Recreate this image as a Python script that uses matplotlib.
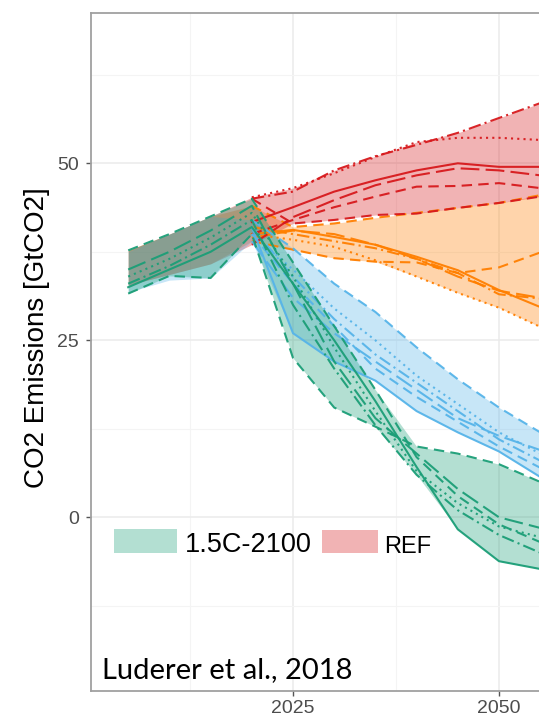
import matplotlib
matplotlib.use("Agg")
import matplotlib.pyplot as plt
from matplotlib.patches import Rectangle
from matplotlib.ticker import MultipleLocator

# ---------------- data ----------------
years = [2005, 2010, 2015, 2020, 2025, 2030, 2035, 2040, 2045, 2050, 2055]

# 1.5C-2100 (green) model trajectories
green_solid    = [32.5, 35.0, 37.5, 41.0, 33.0, 25.0, 16.4, 7.1, -1.7, -6.2, -7.3]
green_dashed_a = [31.6, 34.1, 33.8, 40.0, 22.5, 15.5, 12.8, 10.0, 9.0, 7.5, 5.0]
green_dashed_b = [37.7, 40.0, 42.5, 45.0, 36.0, 27.0, 18.0, 8.5, 3.0, -1.0, -3.5]
green_dotted   = [34.0, 36.5, 39.5, 43.0, 34.0, 24.0, 15.0, 6.5, 2.0, -1.3, -2.8]
green_dashdot  = [33.0, 35.5, 38.5, 42.0, 30.0, 21.0, 13.0, 6.0, 1.0, -2.5, -5.0]
green_longdash = [35.0, 37.5, 40.5, 44.0, 33.0, 22.0, 14.0, 9.0, 4.0, 0.0, -1.5]

# 2C (blue) model trajectories
blue_solid    = [33.0, 35.5, 38.0, 41.0, 26.0, 22.0, 19.3, 15.0, 12.0, 9.3, 5.7]
blue_dashed_a = [37.5, 40.0, 42.5, 42.0, 38.0, 33.0, 29.0, 24.0, 19.5, 15.5, 12.0]
blue_dashdot  = [34.0, 36.5, 39.0, 41.0, 34.0, 28.0, 23.0, 19.0, 15.0, 11.0, 8.0]
blue_dotted   = [35.0, 37.5, 40.0, 40.0, 35.0, 29.5, 25.0, 20.0, 16.0, 12.0, 9.0]
blue_longdash = [31.8, 33.5, 33.8, 39.0, 31.0, 26.0, 22.0, 18.0, 14.0, 11.5, 9.5]
blue_dashed_b = [33.5, 36.0, 38.5, 40.0, 33.0, 27.0, 21.0, 17.0, 13.5, 10.0, 7.0]

# REF (red) model trajectories
red_dotted   = [37.7, 40.0, 42.5, 45.2, 46.5, 48.6, 50.9, 53.0, 53.6, 53.6, 53.3]
red_dashdot  = [36.0, 38.5, 41.0, 45.0, 46.0, 49.0, 51.0, 52.6, 54.3, 56.4, 58.5]
red_solid    = [35.0, 37.0, 39.5, 41.7, 43.8, 46.0, 47.6, 49.0, 50.0, 49.5, 49.5]
red_longdash = [32.8, 34.3, 35.8, 38.5, 42.4, 44.8, 46.9, 48.3, 49.3, 49.0, 48.3]
red_dashed_a = [34.0, 36.0, 38.5, 40.0, 42.0, 43.8, 45.3, 46.7, 46.8, 47.2, 46.5]
red_dashed_b = [36.5, 39.0, 41.5, 45.0, 41.5, 42.0, 42.7, 42.9, 43.7, 44.4, 45.3]

# NDC (orange) model trajectories
orange_dashed_a = [37.7, 40.0, 42.5, 44.0, 41.0, 41.5, 42.3, 43.0, 43.7, 44.4, 45.5]
orange_dotted   = [32.8, 34.3, 35.8, 40.0, 39.2, 38.2, 36.3, 34.0, 31.7, 29.6, 26.9]
orange_solid    = [35.0, 37.0, 39.5, 40.0, 40.6, 39.6, 38.5, 36.8, 34.9, 32.1, 29.7]
orange_dashed_b = [34.0, 36.0, 38.5, 39.0, 37.8, 36.6, 36.1, 36.0, 34.5, 35.3, 37.4]
orange_dashdot  = [36.0, 38.5, 41.0, 41.0, 40.0, 39.0, 38.0, 36.5, 34.5, 31.5, 30.9]
orange_longdash = [33.5, 35.5, 37.5, 39.5, 40.5, 40.0, 38.5, 36.5, 34.0, 32.0, 31.0]

x_ticks = [2025, 2050]
y_ticks = [0, 25, 50]
legend_labels = ["1.5C-2100", "REF"]

# ---------------- styling ----------------
LS = {
    "solid": "-",
    "dashed": (0, (5, 3)),
    "dotted": (0, (1, 2)),
    "dashdot": (0, (6, 2, 1, 2)),
    "longdash": (0, (9, 3)),
}

scenarios = [
    ("NDC", "#ff7f00", [
        (orange_dashed_a, "dashed"), (orange_dotted, "dotted"), (orange_solid, "solid"),
        (orange_dashed_b, "dashed"), (orange_dashdot, "dashdot"), (orange_longdash, "longdash")]),
    ("REF", "#d7191c", [
        (red_dotted, "dotted"), (red_dashdot, "dashdot"), (red_solid, "solid"),
        (red_longdash, "longdash"), (red_dashed_a, "dashed"), (red_dashed_b, "dashed")]),
    ("2C", "#56b4e9", [
        (blue_solid, "solid"), (blue_dashed_a, "dashed"), (blue_dashdot, "dashdot"),
        (blue_dotted, "dotted"), (blue_longdash, "longdash"), (blue_dashed_b, "dashed")]),
    ("1.5C-2100", "#1b9e77", [
        (green_solid, "solid"), (green_dashed_a, "dashed"), (green_dashed_b, "dashed"),
        (green_dotted, "dotted"), (green_dashdot, "dashdot"), (green_longdash, "longdash")]),
]

SANS = ["Liberation Sans", "DejaVu Sans"]

W, H = 539, 721
fig = plt.figure(figsize=(W / 100, H / 100), dpi=100)
left, right, top, bottom = 91, 562, 13, 691
ax = fig.add_axes([left / W, 1 - bottom / H, (right - left) / W, (bottom - top) / H])

px_per_year = 8.24
px_per_unit = 7.08
x0 = 2025 - (293 - left) / px_per_year
ax.set_xlim(x0, x0 + (right - left) / px_per_year)
ax.set_ylim((517.3 - bottom) / px_per_unit, (517.3 - top) / px_per_unit)

# grid
ax.set_axisbelow(True)
ax.xaxis.set_major_locator(MultipleLocator(25))
ax.xaxis.set_minor_locator(MultipleLocator(12.5))
ax.yaxis.set_major_locator(MultipleLocator(25))
ax.yaxis.set_minor_locator(MultipleLocator(12.5))
ax.grid(which="major", color="#ebebeb", linewidth=1.1)
ax.grid(which="minor", color="#f4f4f4", linewidth=0.8)

for name, color, lines in scenarios:
    n = len(years)
    lo = [min(l[0][i] for l in lines) for i in range(n)]
    hi = [max(l[0][i] for l in lines) for i in range(n)]
    ax.fill_between(years, lo, hi, color=color, alpha=0.33, linewidth=0)
    start = 0 if name == "1.5C-2100" else 3
    for vals, style in lines:
        ax.plot(years[start:], vals[start:], color=color, linestyle=LS[style],
                linewidth=1.5, alpha=0.95)

ax.set_xticks(x_ticks)
ax.set_yticks(y_ticks)
ax.set_xticklabels([str(v) for v in x_ticks])
ax.set_yticklabels([str(v) for v in y_ticks])
ax.tick_params(which="minor", length=0)
ax.tick_params(which="major", length=3.5, width=1.0, color="#555555",
               labelsize=14, labelcolor="#4d4d4d")
ax.tick_params(axis="x", pad=3)
ax.tick_params(axis="y", pad=5)
for lab in ax.get_xticklabels() + ax.get_yticklabels():
    lab.set_fontfamily(SANS)

for s in ax.spines.values():
    s.set_color("#a0a0a0")
    s.set_linewidth(1.3)

fig.text(37 / W, 1 - 338 / H, "CO2 Emissions [GtCO2]", rotation=90,
         ha="center", va="center", fontsize=20, family=SANS, color="black")

# legend (manual)
fig.add_artist(Rectangle((114 / W, 1 - 553 / H), 63 / W, 24 / H,
                         transform=fig.transFigure, facecolor="#1b9e77", alpha=0.33,
                         edgecolor="none"))
fig.text(185 / W, 1 - 552 / H, legend_labels[0], fontsize=19.5,
         family=SANS, ha="left", va="baseline", color="black")
fig.add_artist(Rectangle((322 / W, 1 - 553 / H), 56 / W, 23 / H,
                         transform=fig.transFigure, facecolor="#d7191c", alpha=0.33,
                         edgecolor="none"))
fig.text(384 / W, 1 - 553 / H, legend_labels[1], fontsize=17,
         family=SANS, ha="left", va="baseline", color="black")

fig.text(102 / W, 1 - 678 / H, "Luderer et al., 2018", fontsize=21,
         family=["Lato", "DejaVu Sans"], ha="left", va="baseline", color="black")

fig.savefig("out.png", dpi=100)
